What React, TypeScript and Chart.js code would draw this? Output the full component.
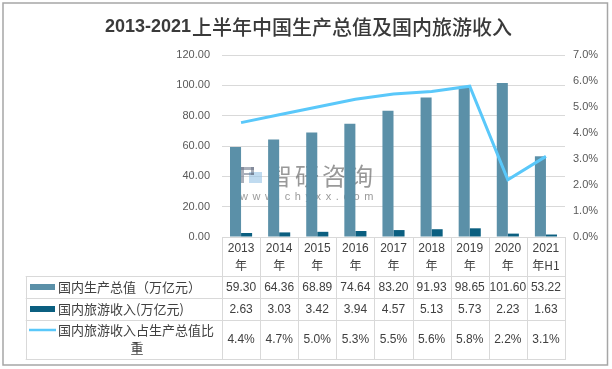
import React, { useEffect, useRef } from "react";
import { Chart, registerables } from "chart.js";

Chart.register(...registerables);

const categories = ["2013年", "2014年", "2015年", "2016年", "2017年", "2018年", "2019年", "2020年", "2021年H1"];
const headerTop = ["2013", "2014", "2015", "2016", "2017", "2018", "2019", "2020", "2021"];
const headerBottom = ["年", "年", "年", "年", "年", "年", "年", "年", "年H1"];
const gdp = [59.3, 64.36, 68.89, 74.64, 83.2, 91.93, 98.65, 101.6, 53.22];
const tourism = [2.63, 3.03, 3.42, 3.94, 4.57, 5.13, 5.73, 2.23, 1.63];
const share = [4.4, 4.7, 5.0, 5.3, 5.5, 5.6, 5.8, 2.2, 3.1];

const seriesNames = ["国内生产总值（万亿元）", "国内旅游收入(万亿元)", "国内旅游收入占生产总值比重"];
const titleNum = "2013-2021";
const titleText = "上半年中国生产总值及国内旅游收入";

const GDP_COLOR = "#5b90a8";
const TOUR_COLOR = "#0b5f80";
const LINE_COLOR = "#5ac8fa";
const GRID = "#d9d9d9";
const FONT = '"Liberation Sans", "Noto Sans CJK SC", sans-serif';
const CJK = '"Noto Sans CJK SC", "Liberation Sans", sans-serif';

const decorPlugin = {
  id: "decor",
  beforeDraw(chart: any) {
    const ctx = chart.ctx;
    ctx.save();
    ctx.fillStyle = "#ffffff";
    ctx.fillRect(0, 0, chart.width, chart.height);
    ctx.restore();
  },
  beforeDatasetsDraw(chart: any) {
    const ctx = chart.ctx;
    ctx.save();
    // watermark logo
    ctx.fillStyle = "rgba(150,195,230,0.6)";
    ctx.fillRect(249, 172, 13, 11);
    ctx.fillStyle = "rgba(100,110,130,0.55)";
    ctx.fillRect(240, 167, 4, 16);
    ctx.fillRect(240, 167, 14, 3);
    ctx.fillRect(251, 167, 3, 8);
    ctx.fillRect(244, 173, 10, 2);
    ctx.fillStyle = "rgba(85,85,85,0.6)";
    ctx.font = "24px " + CJK;
    ctx.textBaseline = "middle";
    ctx.textAlign = "left";
    (ctx as any).letterSpacing = "3px";
    ctx.fillText("智研咨询", 268, 176);
    ctx.font = "11px " + FONT;
    (ctx as any).letterSpacing = "4.6px";
    ctx.fillText("www.chyxx.com", 240, 197);
    (ctx as any).letterSpacing = "0px";
    ctx.restore();
  },
  afterDraw(chart: any) {
    const ctx = chart.ctx;
    const area = chart.chartArea;
    const left = area.left;
    const right = area.right;
    const n = categories.length;
    const w = (right - left) / n;
    const legendLeft = 25.7;
    const yAxis = area.bottom;
    const rows = [276, 298, 320, 359];
    ctx.save();

    // outer border
    ctx.strokeStyle = "#a6a6a6";
    ctx.lineWidth = 1.5;
    ctx.strokeRect(3, 3, 604.5, 362);

    // title
    ctx.fillStyle = "#3a3a3a";
    ctx.textBaseline = "middle";
    ctx.font = "bold 18px " + FONT;
    const w1 = ctx.measureText(titleNum).width;
    ctx.font = "500 20px " + CJK;
    const w2 = ctx.measureText(titleText).width;
    const tx = 308 - (w1 + w2) / 2;
    ctx.font = "bold 18px " + FONT;
    ctx.textAlign = "left";
    ctx.fillText(titleNum, tx, 27.5);
    ctx.font = "500 20px " + CJK;
    ctx.fillText(titleText, tx + w1 + 1, 27.5);

    // table grid
    ctx.strokeStyle = GRID;
    ctx.lineWidth = 1;
    ctx.beginPath();
    for (let i = 0; i <= n; i++) {
      const x = Math.round(left + i * w) + 0.5;
      ctx.moveTo(x, yAxis);
      ctx.lineTo(x, rows[3]);
    }
    ctx.moveTo(Math.round(legendLeft) + 0.5, rows[0]);
    ctx.lineTo(Math.round(legendLeft) + 0.5, rows[3]);
    for (const r of rows) {
      ctx.moveTo(legendLeft, r + 0.5);
      ctx.lineTo(right + 1, r + 0.5);
    }
    ctx.stroke();

    // header
    ctx.fillStyle = "#404040";
    ctx.textAlign = "center";
    ctx.textBaseline = "middle";
    for (let i = 0; i < n; i++) {
      const cx = left + (i + 0.5) * w;
      ctx.font = "12px " + FONT;
      ctx.fillText(headerTop[i], cx, 249);
      ctx.font = "12px " + CJK;
      ctx.fillText(headerBottom[i], cx, 265);
    }
    // values
    ctx.font = "12px " + FONT;
    for (let i = 0; i < n; i++) {
      const cx = left + (i + 0.5) * w;
      ctx.fillText(gdp[i].toFixed(2), cx, 287.5);
      ctx.fillText(tourism[i].toFixed(2), cx, 309.5);
      ctx.fillText(share[i].toFixed(1) + "%", cx, 340);
    }

    // legend keys
    ctx.fillStyle = GDP_COLOR;
    ctx.fillRect(30, 284, 25, 6);
    ctx.fillStyle = TOUR_COLOR;
    ctx.fillRect(30, 306, 25, 6);
    ctx.strokeStyle = LINE_COLOR;
    ctx.lineWidth = 2.5;
    ctx.beginPath();
    ctx.moveTo(29, 330);
    ctx.lineTo(56, 330);
    ctx.stroke();

    ctx.fillStyle = "#404040";
    ctx.textAlign = "left";
    ctx.font = "13px " + CJK;
    ctx.fillText(seriesNames[0], 58, 287.5);
    ctx.fillText(seriesNames[1], 58, 309.5);
    const line1 = seriesNames[2].slice(0, seriesNames[2].length - 1);
    const line2 = seriesNames[2].slice(seriesNames[2].length - 1);
    ctx.fillText(line1, 58, 330);
    ctx.textAlign = "center";
    ctx.fillText(line2, 137, 348);

    ctx.restore();
  },
};

export default function App() {
  const ref = useRef<HTMLCanvasElement | null>(null);
  useEffect(() => {
    document.body.style.margin = "0";
    const canvas = ref.current;
    if (!canvas) return;
    const chart = new Chart(canvas, {
      type: "bar",
      data: {
        labels: categories,
        datasets: [
          {
            type: "line",
            label: seriesNames[2],
            data: share,
            yAxisID: "y1",
            borderColor: LINE_COLOR,
            backgroundColor: LINE_COLOR,
            borderWidth: 3,
            pointRadius: 0,
            tension: 0,
            order: 0,
          } as any,
          {
            type: "bar",
            label: seriesNames[0],
            data: gdp,
            yAxisID: "y",
            backgroundColor: GDP_COLOR,
            categoryPercentage: 0.58,
            barPercentage: 1,
            order: 1,
          },
          {
            type: "bar",
            label: seriesNames[1],
            data: tourism,
            yAxisID: "y",
            backgroundColor: TOUR_COLOR,
            categoryPercentage: 0.58,
            barPercentage: 1,
            order: 1,
          },
        ],
      },
      options: {
        responsive: false,
        animation: false,
        events: [],
        layout: { padding: { top: 55, bottom: 132, left: 0, right: 0 } },
        plugins: {
          legend: { display: false },
          tooltip: { enabled: false },
          title: { display: false },
        },
        scales: {
          x: { display: false },
          y: {
            position: "left",
            min: 0,
            max: 120,
            afterFit: (s: any) => {
              s.width = 222;
            },
            grid: { color: GRID, drawTicks: false },
            border: { display: false },
            ticks: {
              stepSize: 20,
              padding: 12,
              color: "#595959",
              font: { size: 11, family: FONT },
              callback: (v: any) => Number(v).toFixed(2),
            },
          },
          y1: {
            position: "right",
            min: 0,
            max: 7,
            afterFit: (s: any) => {
              s.width = 47;
            },
            grid: { display: false, drawTicks: false },
            border: { display: false },
            ticks: {
              stepSize: 1,
              padding: 8,
              color: "#595959",
              font: { size: 11, family: FONT },
              callback: (v: any) => Number(v).toFixed(1) + "%",
            },
          },
        },
      },
      plugins: [decorPlugin],
    });
    return () => chart.destroy();
  }, []);
  return (
    <div style={{ position: "absolute", left: 0, top: 0, width: 612, height: 369 }}>
      <canvas ref={ref} width={612} height={369} style={{ display: "block" }} />
    </div>
  );
}
